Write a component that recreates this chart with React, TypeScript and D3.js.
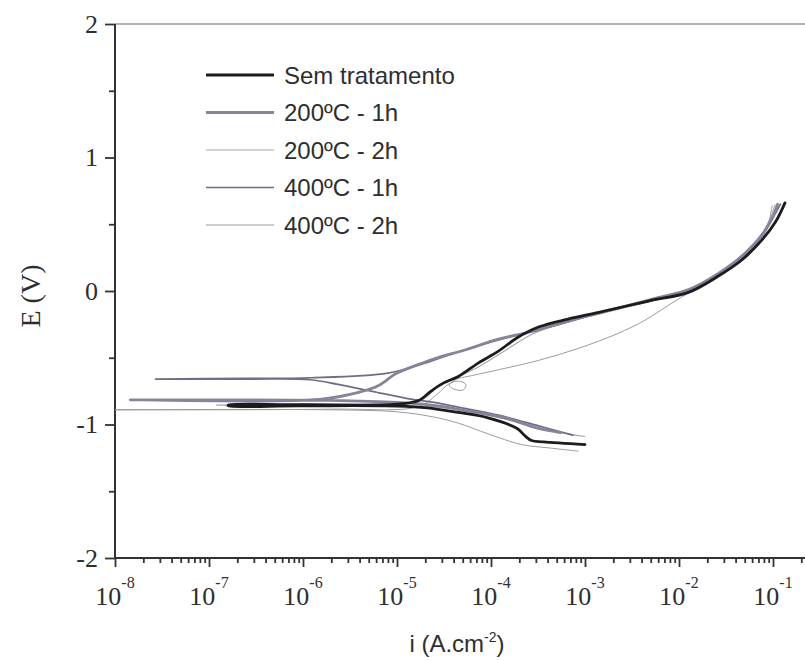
import React, { useEffect, useRef } from "react";
import * as d3 from "d3";

type Pt = [number, number]; // [i (A/cm2), E (V)]

// curves: cathodic end -> Ecorr -> anodic end
const semTratamento: Pt[] = [
  [1.0e-3, -1.15], [3.6e-4, -1.13], [2.7e-4, -1.12], [2.3e-4, -1.085], [1.9e-4, -1.03],
  [9.3e-5, -0.95], [4.5e-5, -0.91], [2.1e-5, -0.875], [1.0e-5, -0.862], [9e-7, -0.86],
  [1.6e-7, -0.86], [1.6e-7, -0.855], [9e-7, -0.852], [1.0e-5, -0.848], [1.7e-5, -0.82],
  [2.3e-5, -0.75], [3.1e-5, -0.69], [4.5e-5, -0.64], [7.3e-5, -0.54], [1.2e-4, -0.45],
  [1.9e-4, -0.35], [3.2e-4, -0.27], [6.6e-4, -0.21], [1.4e-3, -0.16], [4.7e-3, -0.075],
  [1.26e-2, -0.01], [2.6e-2, 0.11], [4.8e-2, 0.24], [7.8e-2, 0.39], [0.107, 0.52], [0.134, 0.66],
];

const c200h1: Pt[] = [
  [5.5e-4, -1.06], [3.2e-4, -1.03], [1.4e-4, -0.95], [5.7e-5, -0.9], [2.7e-5, -0.86],
  [1.0e-5, -0.835], [1.9e-6, -0.82], [1.45e-8, -0.815], [1.5e-6, -0.812], [3.9e-6, -0.76],
  [6.3e-6, -0.71], [1.0e-5, -0.615], [1.7e-5, -0.55], [2.7e-5, -0.5], [5.4e-5, -0.44],
  [1.2e-4, -0.36], [2.5e-4, -0.31], [6.6e-4, -0.225], [2.2e-3, -0.13], [6.0e-3, -0.05],
  [1.26e-2, 0.01], [2.6e-2, 0.13], [4.8e-2, 0.27], [7.8e-2, 0.43], [0.1, 0.56], [0.112, 0.65],
];

const c200h2: Pt[] = [
  [1.0e-3, -1.09], [5.1e-4, -1.055], [1.9e-4, -0.98], [7.3e-5, -0.915], [2.7e-5, -0.87],
  [1.0e-5, -0.858], [1.2e-7, -0.855], [8.9e-7, -0.848], [1.0e-5, -0.842], [1.9e-5, -0.81],
  [2.7e-5, -0.72], [4.0e-5, -0.66], [7.3e-5, -0.57], [1.5e-4, -0.435], [2.8e-4, -0.32],
  [6.6e-4, -0.23], [2.2e-3, -0.14], [6.0e-3, -0.06], [1.26e-2, 0.0], [2.6e-2, 0.12],
  [4.8e-2, 0.25], [7.2e-2, 0.4], [9.3e-2, 0.54], [0.105, 0.645],
];

const c400h1: Pt[] = [
  [7.4e-4, -1.08], [3.2e-4, -1.01], [1.2e-4, -0.93], [4.5e-5, -0.87], [2.3e-5, -0.83],
  [1.4e-5, -0.81], [5.3e-6, -0.75], [2.35e-6, -0.7], [1.2e-6, -0.665], [2.6e-7, -0.66],
  [2.7e-8, -0.66], [2.6e-7, -0.655], [1.2e-6, -0.65], [8.0e-6, -0.615], [1.8e-5, -0.55],
  [3.5e-5, -0.48], [7.3e-5, -0.41], [1.9e-4, -0.33], [5.1e-4, -0.255], [1.4e-3, -0.165],
  [4.7e-3, -0.08], [1.26e-2, 0.0], [2.6e-2, 0.125], [4.8e-2, 0.255], [7.8e-2, 0.42],
  [0.107, 0.585], [0.12, 0.65],
];

const c400h2: Pt[] = [
  [8.5e-4, -1.2], [4.1e-4, -1.175], [2.1e-4, -1.15], [9.3e-5, -1.07], [4.5e-5, -0.99],
  [2.3e-5, -0.94], [1.0e-5, -0.905], [1.9e-6, -0.89], [5e-9, -0.89], [1.9e-6, -0.885],
  [1.7e-5, -0.865], [2.7e-5, -0.77], [3.5e-5, -0.7], [4.5e-5, -0.675], [5.4e-5, -0.7],
  [5.1e-5, -0.74], [4.0e-5, -0.735], [3.6e-5, -0.705], [4.3e-5, -0.66], [5.7e-5, -0.64],
  [1.2e-4, -0.59], [3.2e-4, -0.52], [8.5e-4, -0.43], [2.2e-3, -0.32], [4.2e-3, -0.225],
  [7.6e-3, -0.11], [1.26e-2, -0.015], [2.6e-2, 0.11], [4.8e-2, 0.24], [6.9e-2, 0.375],
  [8.9e-2, 0.51], [9.8e-2, 0.64],
];

const seriesNames = ["Sem tratamento", "200ºC - 1h", "200ºC - 2h", "400ºC - 1h", "400ºC - 2h"];
const seriesData = [semTratamento, c200h1, c200h2, c400h1, c400h2];
const xDecades = [-8, -7, -6, -5, -4, -3, -2, -1];
const yMajor = [-2, -1, 0, 1, 2];
const yMinor = [-1.5, -0.5, 0.5, 1.5];

const colors = ["#1c1c1c", "#84849a", "#a4a4aa", "#6e6e86", "#9c9ca0"];
const widths = [2.8, 2.8, 1.1, 1.7, 1.0];

export default function App() {
  const ref = useRef<SVGSVGElement>(null);

  useEffect(() => {
    const svg = d3.select(ref.current);
    svg.selectAll("*").remove();

    const left = 115, right = 805, top = 24, bottom = 558;
    const serif = "'Liberation Serif', 'Times New Roman', serif";
    const sans = "'Liberation Sans', Arial, sans-serif";
    const ink = "#2e2e2e";

    const x = d3.scaleLog().domain([1e-8, 1e-1]).range([left, 773]);
    const y = d3.scaleLinear().domain([-2, 2]).range([bottom, top]);

    svg.append("rect").attr("width", 805).attr("height", 661).attr("fill", "#fff");

    svg.append("clipPath").attr("id", "plot")
      .append("rect").attr("x", left).attr("y", top).attr("width", right - left).attr("height", bottom - top);

    // frame: light top line, dark left & bottom axes
    svg.append("line").attr("x1", left).attr("x2", right).attr("y1", top).attr("y2", top)
      .attr("stroke", "#9a9a9a").attr("stroke-width", 1.3);

    // y axis (major + minor ticks)
    const yAxis = svg.append("g").attr("transform", `translate(${left},0)`)
      .call(d3.axisLeft(y).tickValues(yMajor).tickSize(10).tickPadding(7).tickFormat(d => String(d)));
    svg.append("g").attr("transform", `translate(${left},0)`)
      .call(d3.axisLeft(y).tickValues(yMinor).tickSize(6).tickFormat(() => ""));

    // x axis (decades + minor ticks)
    const minor: number[] = [];
    xDecades.forEach(k => {
      for (let m = 2; m <= 9; m++) {
        const v = m * Math.pow(10, k);
        if (x(v) <= right) minor.push(v);
      }
    });
    svg.append("g").attr("transform", `translate(0,${bottom})`)
      .call(d3.axisBottom(x).tickValues(xDecades.map(k => Math.pow(10, k))).tickSize(9).tickFormat(() => ""));
    svg.append("g").attr("transform", `translate(0,${bottom})`)
      .call(d3.axisBottom(x).tickValues(minor).tickSize(5).tickFormat(() => ""));

    svg.selectAll(".domain").remove();
    svg.selectAll(".tick line").attr("stroke", "#333").attr("stroke-width", 1.8);

    yAxis.selectAll(".tick text")
      .attr("font-family", serif).attr("font-size", 26).attr("fill", ink);

    svg.append("line").attr("x1", left).attr("x2", left).attr("y1", top).attr("y2", bottom)
      .attr("stroke", "#333").attr("stroke-width", 2);
    svg.append("line").attr("x1", left).attr("x2", right).attr("y1", bottom).attr("y2", bottom)
      .attr("stroke", "#333").attr("stroke-width", 2);

    // decade labels 10^k
    const xl = svg.append("g").attr("font-family", serif).attr("fill", ink);
    xDecades.forEach(k => {
      const t = xl.append("text").attr("x", x(Math.pow(10, k))).attr("y", 605)
        .attr("text-anchor", "middle").attr("font-size", 26);
      t.append("tspan").text("10");
      t.append("tspan").attr("dy", -17).attr("font-size", 16).text(String(k));
    });

    // axis titles
    svg.append("text").attr("transform", "translate(40,296) rotate(-90)")
      .attr("text-anchor", "middle").attr("font-family", serif).attr("font-size", 28)
      .attr("fill", ink).text("E (V)");

    const xt = svg.append("text").attr("x", 457).attr("y", 652).attr("text-anchor", "middle")
      .attr("font-family", sans).attr("font-size", 24).attr("fill", ink);
    xt.append("tspan").text("i (A.cm");
    xt.append("tspan").attr("dy", -10).attr("font-size", 14).text("-2");
    xt.append("tspan").attr("dy", 10).text(")");

    // curves
    const line = d3.line<Pt>()
      .x(d => x(d[0]))
      .y(d => y(d[1]))
      .curve(d3.curveCatmullRom.alpha(0.5));

    const order = [4, 2, 3, 1, 0];
    svg.append("g").attr("clip-path", "url(#plot)")
      .selectAll("path")
      .data(order)
      .join("path")
      .attr("d", i => line(seriesData[i]))
      .attr("fill", "none")
      .attr("stroke", i => colors[i])
      .attr("stroke-width", i => widths[i])
      .attr("stroke-linejoin", "round")
      .attr("stroke-linecap", "round");

    // legend
    const lg = svg.append("g");
    seriesNames.forEach((name, i) => {
      const ly = 75 + i * 37.5;
      lg.append("line").attr("x1", 206).attr("x2", 274).attr("y1", ly).attr("y2", ly)
        .attr("stroke", colors[i]).attr("stroke-width", widths[i]);
      lg.append("text").attr("x", 284).attr("y", ly + 8.5)
        .attr("font-family", sans).attr("font-size", 24).attr("fill", ink).text(name);
    });
  }, []);

  return (
    <svg ref={ref} width={805} height={661}
      style={{ position: "absolute", left: 0, top: 0, display: "block" }} />
  );
}
